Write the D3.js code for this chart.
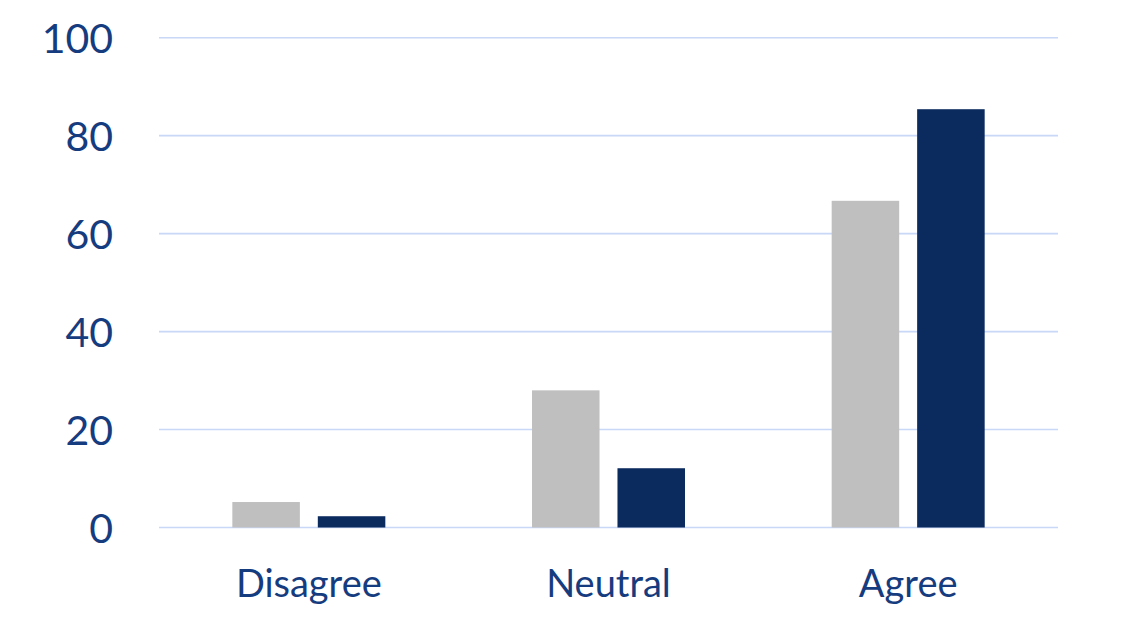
<!DOCTYPE html>
<html>
<head>
<meta charset="utf-8">
<script src="https://cdn.jsdelivr.net/npm/d3@7"></script>
<style>
  html, body { margin: 0; padding: 0; background: #ffffff; }
  svg { display: block; }
  text { font-family: Lato, "Open Sans", sans-serif; }
</style>
</head>
<body>
<svg id="chart" width="1142" height="642"></svg>
<script>
// Response categories and the two series plotted for each
const categories = ["Disagree", "Neutral", "Agree"];
const seriesNames = ["Before", "After"];
const beforeValues = [5.2, 28.0, 66.7];
const afterValues = [2.3, 12.1, 85.4];
const yTicks = [0, 20, 40, 60, 80, 100];

const colors = { Before: "#bfbfbf", After: "#0b2a5e" };
const textColor = "#163c80";
const gridColor = "#c8d8f6";

const svg = d3.select("#chart");
const plot = { left: 159, right: 1058, top: 37.7, bottom: 527.5 };

const x = d3.scaleBand().domain(categories).range([plot.left, plot.right]).padding(0);
const groupWidth = 153;
const xInner = d3.scaleBand().domain(seriesNames).range([0, groupWidth]).paddingInner(0.21).paddingOuter(0);
const y = d3.scaleLinear().domain([0, 100]).range([plot.bottom, plot.top]);

// Horizontal gridlines
svg.append("g")
  .selectAll("line")
  .data(yTicks)
  .join("line")
  .attr("x1", plot.left)
  .attr("x2", plot.right)
  .attr("y1", d => y(d))
  .attr("y2", d => y(d))
  .attr("stroke", gridColor)
  .attr("stroke-width", 1.6);

// Y axis labels
const yAxis = d3.axisLeft(y).tickValues(yTicks).tickSize(0).tickPadding(0);
const yg = svg.append("g")
  .attr("transform", `translate(113,0)`)
  .call(yAxis);
yg.select(".domain").remove();
yg.selectAll("text")
  .attr("fill", textColor)
  .attr("font-size", 41)
  .attr("font-family", "Lato, 'Open Sans', sans-serif")
  .attr("dy", "0.36em");

// Bars
const rows = categories.map((c, i) => ({
  category: c,
  values: [
    { series: "Before", value: beforeValues[i] },
    { series: "After", value: afterValues[i] }
  ]
}));

const groups = svg.append("g")
  .selectAll("g")
  .data(rows)
  .join("g")
  .attr("transform", d => `translate(${x(d.category) + (x.bandwidth() - groupWidth) / 2},0)`);

groups.selectAll("rect")
  .data(d => d.values)
  .join("rect")
  .attr("x", d => xInner(d.series))
  .attr("width", xInner.bandwidth())
  .attr("y", d => y(d.value))
  .attr("height", d => y(0) - y(d.value))
  .attr("fill", d => colors[d.series]);

// Category labels
const xAxis = d3.axisBottom(x).tickSize(0).tickPadding(0);
const xg = svg.append("g")
  .attr("transform", `translate(0,597)`)
  .call(xAxis);
xg.select(".domain").remove();
xg.selectAll("text")
  .attr("fill", textColor)
  .attr("font-size", 38)
  .attr("font-family", "Lato, 'Open Sans', sans-serif")
  .attr("dy", 0);
</script>
</body>
</html>
